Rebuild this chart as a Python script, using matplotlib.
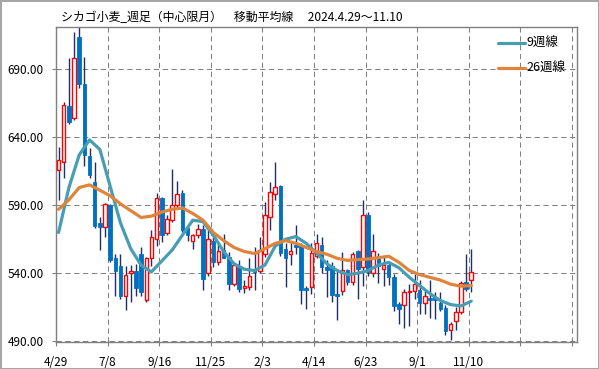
import matplotlib
matplotlib.use('Agg')
import matplotlib.pyplot as plt
import numpy as np

plt.rcParams['font.family'] = ['Noto Sans CJK JP', 'DejaVu Sans']

# 週足 OHLC
opens = [615.7, 622, 663, 654, 714, 679, 626, 607, 577, 574,
         590, 551, 545, 523, 540, 542, 554.5, 520, 551, 565.5,
         595, 569.6, 579.5, 590, 599, 573, 564, 568.4, 572.8, 540,
         564, 548, 557, 552, 532.4, 544.6, 529.5, 530, 543.4, 542,
         554.5, 581, 598, 604, 558, 554, 560.6, 560.6, 529, 530,
         552.5, 560.6, 544.6, 545, 524.5, 526.8, 542.7, 533.6, 556.2, 544.6,
         583, 540, 553, 543, 546, 537.3, 517.7, 516.5, 526, 527,
         528, 518.2, 522, 522.6, 518.2, 514.7, 498.6, 504.7, 511.5, 533.6,
         535.3]
highs = [633, 666, 698, 717, 722, 699, 632, 622, 581, 592,
         591, 554, 554, 545, 546, 547, 559, 552, 572, 599,
         596, 583, 617, 608, 601, 574, 569, 576.5, 575.3, 571.6,
         567, 562, 569, 555.6, 548.3, 549.5, 534.8, 551, 559, 566.7,
         592.4, 607, 622, 605, 562, 562, 575.3, 562, 531, 562,
         569, 566.7, 549.5, 548, 543.4, 555.6, 543.4, 555.6, 557, 594,
         585, 569, 555, 552, 548.3, 539.8, 519, 528.7, 532, 539.8,
         534.8, 528.7, 535.3, 526.2, 526.2, 516.5, 504.2, 515.2, 534, 554.5,
         558]
lows = [594, 610, 650, 653, 676, 619, 610, 573, 557, 567,
        548, 523, 521, 513, 519, 523, 523, 519, 545, 560,
        563, 568, 578, 588, 570, 564, 558, 566, 527.5, 538,
        544.6, 546, 551, 528, 531, 526, 525.5, 527.5, 527.5, 540,
        552, 571.6, 593.6, 553, 530, 546, 554.5, 517.7, 514, 525,
        551, 540, 522.6, 519, 505.4, 523.8, 531.2, 531.2, 521.4, 530.4,
        538, 537, 533, 531, 531.2, 512, 503, 500, 501, 521.4,
        510.4, 510.4, 507.4, 506.7, 512, 495, 491.2, 498, 510, 527,
        526]
closes = [623, 664, 651, 698, 679, 627, 612, 575, 574, 591,
          550, 542, 523, 538.5, 542, 529.5, 526, 551, 567, 595,
          568, 580, 590, 598.6, 572, 568, 568, 572.3, 536, 565,
          548, 556.4, 551.2, 532, 546.4, 528.7, 530.4, 538, 541, 557,
          582.6, 600, 603.5, 555, 551, 556.4, 559.3, 528, 528, 555,
          562, 544.6, 542.7, 524, 523.1, 542.2, 533.6, 554.5, 543.4, 583,
          541, 556.4, 545, 546, 537.3, 515.7, 514, 526.2, 527, 532.4,
          518.2, 523.1, 520, 520.1, 514, 497.6, 503, 511.5, 533, 528.2,
          541]

# 移動平均線（2週ごとに読み取り）
ma_idx = list(range(0, 81, 2))
ma9 = [570, 603, 627, 638, 631, 604, 577, 558, 546, 541,
       549, 557, 568, 579, 578, 568, 556, 547, 543, 542,
       546, 560, 565, 567, 562, 555, 547, 542, 539, 540,
       542, 546, 548, 544, 537, 531, 525, 520, 517, 516,
       519.5]
ma26 = [587, 594, 603, 605, 601, 597, 591, 586, 581, 582,
        585, 587, 588, 584, 579, 570, 564, 559, 556, 554.5,
        558, 562, 564, 562, 559, 556, 554, 551, 549.5, 550,
        550.5, 551.5, 552.5, 548, 542, 539, 537, 535, 532, 530.5,
        531]

tick_labels = ['4/29', '7/8', '9/16', '11/25', '2/3', '4/14', '6/23', '9/1', '11/10', '', '']
yticks = [490, 540, 590, 640, 690]

up_col = '#FF0000'
down_col = '#0070C0'
wick_col = '#1F2F6A'
c9 = '#479DB3'
c26 = '#E0843C'

fig = plt.figure(figsize=(5.99, 3.69), dpi=100, edgecolor='#A6A6A6', linewidth=2)
ax = fig.add_axes([56/599, 1-342/369, 521/599, 315/369])

x = np.arange(len(opens))
o = np.array(opens)
c = np.array(closes)
up = c >= o

ax.vlines(x, lows, highs, color=wick_col, lw=1, zorder=2)
bottom = np.minimum(o, c)
height = np.maximum(np.abs(c - o), 0.7)
ax.bar(x[up], height[up], bottom=bottom[up], width=0.68, facecolor='white',
       edgecolor=up_col, linewidth=1, zorder=3)
ax.bar(x[~up], height[~up], bottom=bottom[~up], width=0.68, facecolor=down_col,
       edgecolor=down_col, linewidth=0.6, zorder=3)

ax.plot(ma_idx, ma9, color=c9, lw=2.3, solid_capstyle='round', zorder=4, label='9週線')
ax.plot(ma_idx, ma26, color=c26, lw=2.3, solid_capstyle='round', zorder=4, label='26週線')

ax.set_xlim(-0.5, 100.5)
ax.set_ylim(489.5, 721)
ax.set_xticks([-0.5 + 10 * k for k in range(11)])
ax.set_xticklabels(tick_labels)
ax.set_yticks(yticks)
ax.set_yticklabels(['%.2f' % v for v in yticks])
ax.tick_params(axis='both', length=3, width=0.8, color='#808080', labelsize=8.5,
               labelcolor='#000000')
ax.tick_params(axis='y', pad=6)
ax.tick_params(axis='x', pad=7)
ax.grid(True, color='#808080', lw=0.75, linestyle=(0, (5, 3.5)))
ax.set_axisbelow(True)
for s in ax.spines.values():
    s.set_color('#808080')
    s.set_linewidth(1)

leg = ax.legend(loc='upper left', bbox_to_anchor=(0.848, 0.968), frameon=False,
                fontsize=9, handlelength=2.2, handletextpad=0.1, labelspacing=0.95,
                borderpad=0, borderaxespad=0)
for t in leg.get_texts():
    t.set_color('#000000')

fig.text(61/599, 1-18/369, 'シカゴ小麦_週足（中心限月）　移動平均線　 2024.4.29～11.10',
         fontsize=8.6, va='center', ha='left')

fig.savefig('out.png', dpi=100)
